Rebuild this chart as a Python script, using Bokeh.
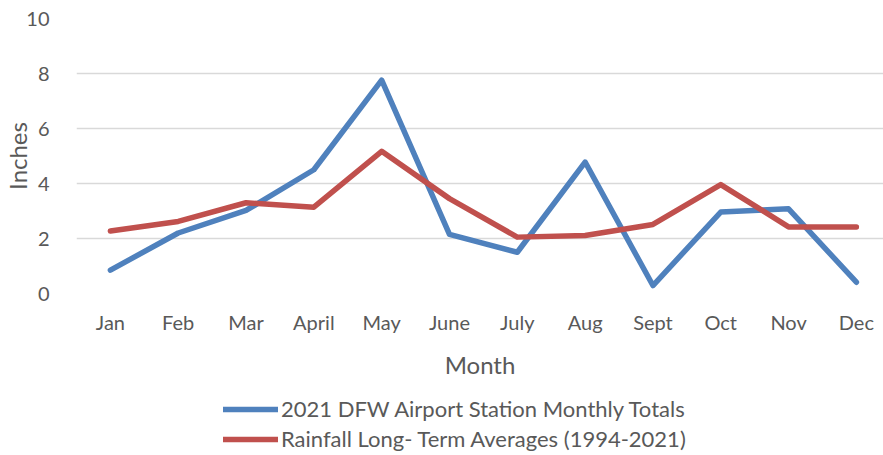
from bokeh.plotting import figure
from bokeh.models import Legend, LegendItem, FixedTicker, Range1d
from bokeh.layouts import column
from bokeh.embed import file_html
from bokeh.resources import INLINE

months = ["Jan", "Feb", "Mar", "April", "May", "June", "July", "Aug", "Sept", "Oct", "Nov", "Dec"]
dfw_2021 = [0.85, 2.2, 3.02, 4.5, 7.76, 2.15, 1.5, 4.78, 0.29, 2.96, 3.08, 0.41]
long_term_avg = [2.27, 2.62, 3.3, 3.14, 5.17, 3.45, 2.05, 2.11, 2.51, 3.96, 2.42, 2.42]
series_names = ["2021 DFW Airport Station Monthly Totals", "Rainfall Long- Term Averages (1994-2021)"]
y_ticks = [0, 2, 4, 6, 8, 10]

FONT = "Lato"
TXT = "#595959"
BLUE = "#4F81BD"
RED = "#C0504D"

x = list(range(len(months)))

p = figure(width=883, height=390, output_backend="svg", toolbar_location=None,
           x_range=Range1d(-0.5, 11.4), y_range=Range1d(0, 10),
           min_border_left=75, min_border_right=0, min_border_top=18, min_border_bottom=97)
p.outline_line_color = None
p.background_fill_color = "white"
p.border_fill_color = "white"

p.line(x, dfw_2021, line_color=BLUE, line_width=5.5, line_cap="round", line_join="round")
p.line(x, long_term_avg, line_color=RED, line_width=5.5, line_cap="round", line_join="round")

p.xaxis.ticker = FixedTicker(ticks=x)
p.xaxis.major_label_overrides = {i: m for i, m in enumerate(months)}
p.yaxis.ticker = FixedTicker(ticks=y_ticks)

for ax in (p.xaxis[0], p.yaxis[0]):
    ax.axis_line_color = None
    ax.major_tick_line_color = None
    ax.minor_tick_line_color = None
    ax.major_label_text_font = FONT
    ax.major_label_text_font_size = "20px"
    ax.major_label_text_color = TXT
    ax.axis_label_text_font = FONT
    ax.axis_label_text_font_size = "24px"
    ax.axis_label_text_color = TXT
    ax.axis_label_text_font_style = "normal"

p.xaxis.axis_label = "Month"
p.yaxis.axis_label = "Inches"
p.xaxis.major_label_standoff = 10
p.xaxis.axis_label_standoff = 13
p.yaxis.major_label_standoff = 21
p.yaxis.axis_label_standoff = -9

p.xgrid.grid_line_color = None
p.ygrid.grid_line_color = "#D9D9D9"
p.ygrid.grid_line_width = 1.5

# legend strip below the chart
lg = figure(width=883, height=65, output_backend="svg", toolbar_location=None,
            x_range=Range1d(0, 1), y_range=Range1d(0, 1),
            x_axis_location=None, y_axis_location=None,
            min_border_left=0, min_border_right=0, min_border_top=0, min_border_bottom=0)
lg.outline_line_color = None
lg.xgrid.grid_line_color = None
lg.ygrid.grid_line_color = None
l1 = lg.line(x, dfw_2021, line_color=BLUE, line_width=5.5, line_cap="round", visible=False)
l2 = lg.line(x, long_term_avg, line_color=RED, line_width=5.5, line_cap="round", visible=False)

legend = Legend(items=[LegendItem(label=series_names[0], renderers=[l1]),
                       LegendItem(label=series_names[1], renderers=[l2])],
                orientation="vertical", location=(147, 3))
legend.label_text_font = FONT
legend.label_text_font_size = "22px"
legend.label_text_color = TXT
legend.glyph_width = 55
legend.glyph_height = 24
legend.label_height = 24
legend.label_standoff = 3
legend.spacing = 3
legend.padding = 0
legend.margin = 0
legend.border_line_color = None
legend.background_fill_alpha = 0
lg.add_layout(legend, "center")

layout = column(p, lg, spacing=0)
open("out.html", "w").write(file_html(layout, INLINE))
